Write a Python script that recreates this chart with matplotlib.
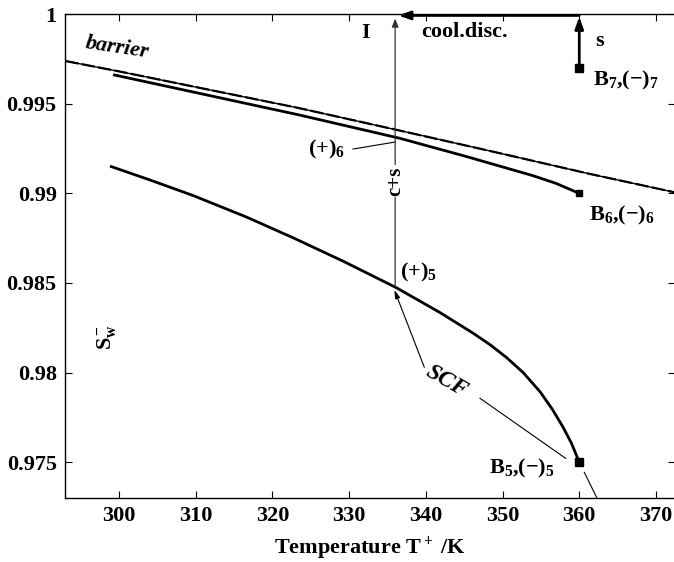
import matplotlib
matplotlib.use("Agg")
import matplotlib.pyplot as plt

# ---- data ----
barrier_T = [293.0, 300.0, 323.5, 336.6, 349.0, 361.4, 372.5]
barrier_S = [0.99738, 0.99680, 0.99475, 0.99350, 0.99230, 0.99108, 0.99005]

c6_T = [299.4, 323.5, 336.6, 345.3, 354.0, 357.0, 360.0]
c6_S = [0.99660, 0.99437, 0.99307, 0.99205, 0.99098, 0.99055, 0.99000]

c5_T = [299.0, 304.0, 309.7, 316.6, 322.7, 329.2, 336.1, 341.85, 346.2, 348.4,
        350.5, 352.7, 354.9, 356.5, 357.9, 359.0, 360.0]
c5_S = [0.99149, 0.99075, 0.98987, 0.98868, 0.98752, 0.98622, 0.98475, 0.98335, 0.98219, 0.98155,
        0.98085, 0.98000, 0.97893, 0.97795, 0.97695, 0.97605, 0.97500]

end_T = [360.0, 360.0, 360.0]
end_S = [0.99700, 0.99000, 0.97500]

xticks = [300, 310, 320, 330, 340, 350, 360, 370]
yticks = [0.975, 0.98, 0.985, 0.99, 0.995, 1.0]
ytick_labels = ["0.975", "0.98", "0.985", "0.99", "0.995", "1"]

plt.rcParams['font.family'] = ['Liberation Serif', 'DejaVu Serif']
plt.rcParams['font.weight'] = 'bold'
plt.rcParams['mathtext.fontset'] = 'custom'
plt.rcParams['mathtext.rm'] = 'Liberation Serif:bold'
plt.rcParams['mathtext.bf'] = 'Liberation Serif:bold'
plt.rcParams['mathtext.it'] = 'Liberation Serif:bold:italic'

fig = plt.figure(figsize=(6.74, 5.62), dpi=100)
ax = fig.add_axes([65/674, 64/562, 610/674, 484/562])
ax.set_xlim(292.96, 372.48)
ax.set_ylim(0.97301, 1.0)

# curves
ax.plot(barrier_T, barrier_S, color='black', lw=1.0, solid_capstyle='butt')
ax.plot(barrier_T, barrier_S, color='black', lw=1.6, ls=(0, (6, 1.5)))
ax.plot(c6_T, c6_S, color='black', lw=2.0, solid_joinstyle='round')
ax.plot(c5_T, c5_S, color='black', lw=2.0, solid_joinstyle='round')
ax.plot(end_T[0:1], end_S[0:1], 's', color='black', ms=6)
ax.plot(end_T[1:2], end_S[1:2], 's', color='black', ms=5)
ax.plot(end_T[2:3], end_S[2:3], 's', color='black', ms=6)

# arrows
ax.annotate('', xy=(336.0, 0.99975), xytext=(336.0, 0.9848),
            arrowprops=dict(arrowstyle='-|>,head_length=0.5,head_width=0.2', color='#333333', lw=0.9,
                            shrinkA=0, shrinkB=0))
ax.annotate('', xy=(336.4, 0.99992), xytext=(360.0, 0.99992),
            arrowprops=dict(arrowstyle='-|>,head_length=0.7,head_width=0.25', color='black', lw=2.0,
                            shrinkA=0, shrinkB=0))
ax.annotate('', xy=(360.0, 0.99985), xytext=(360.0, 0.9970),
            arrowprops=dict(arrowstyle='-|>,head_length=0.7,head_width=0.25', color='black', lw=2.0,
                            shrinkA=0, shrinkB=0))
# SCF pointer lines
ax.annotate('', xy=(335.9, 0.98461), xytext=(339.8, 0.98030),
            arrowprops=dict(arrowstyle='-|>,head_length=0.5,head_width=0.15', color='black', lw=0.8,
                            shrinkA=0, shrinkB=0))
ax.plot([347.06, 358.23], [0.97857, 0.97522], color='black', lw=0.8)
ax.plot([360.66, 362.3], [0.97444, 0.97301], color='black', lw=0.8)
# (+)6 pointer
ax.plot([330.5, 336.0], [0.99247, 0.99286], color='black', lw=0.8)

# texts
fs = 16
ax.text(336.0, 0.99069, 'c+s', rotation=90, ha='center', va='center', fontsize=15,
        fontweight='bold', bbox=dict(facecolor='white', edgecolor='none', pad=1.0))
ax.text(332.2, 0.99894, 'I', ha='center', va='center', fontsize=fs, fontweight='bold')
ax.text(345.1, 0.99900, 'cool.disc.', ha='center', va='center', fontsize=fs, fontweight='bold')
ax.text(362.7, 0.99850, 's', ha='center', va='center', fontsize=fs, fontweight='bold')
ax.text(361.8, 0.99604, r'B$_\mathbf{7}$,(−)$_\mathbf{7}$', ha='left', va='baseline', fontsize=fs, fontweight='bold')
ax.text(361.3, 0.98851, r'B$_\mathbf{6}$,(−)$_\mathbf{6}$', ha='left', va='baseline', fontsize=fs, fontweight='bold')
ax.text(348.2, 0.97435, r'B$_\mathbf{5}$,(−)$_\mathbf{5}$', ha='left', va='baseline', fontsize=fs, fontweight='bold')
ax.text(324.6, 0.99214, r'(+)$_\mathbf{6}$', ha='left', va='baseline', fontsize=fs, fontweight='bold')
ax.text(336.6, 0.98530, r'(+)$_\mathbf{5}$', ha='left', va='baseline', fontsize=fs, fontweight='bold')
ax.text(342.7, 0.97950, 'SCF', rotation=-30, ha='center', va='center', fontsize=17,
        fontweight='bold', fontstyle='italic')
ax.text(299.7, 0.99810, 'barrier', rotation=-8.5, ha='center', va='center', fontsize=16,
        fontweight='bold', fontstyle='italic')
ax.text(298.4, 0.98199, r'$\mathbf{S_w^-}$', rotation=90, ha='center', va='center', fontsize=16)

# axes styling
ax.set_xticks(xticks)
ax.set_yticks(yticks)
ax.set_yticklabels(ytick_labels)
ax.tick_params(direction='in', top=True, right=True, length=5, width=0.8, labelsize=16, pad=6)
for lab in ax.get_xticklabels() + ax.get_yticklabels():
    lab.set_fontweight('bold')
for sp in ax.spines.values():
    sp.set_linewidth(1.0)
ax.set_xlabel(r'Temperature T$^+$ /K', fontsize=16, fontweight='bold', labelpad=6)

fig.savefig('out.png', dpi=100)
